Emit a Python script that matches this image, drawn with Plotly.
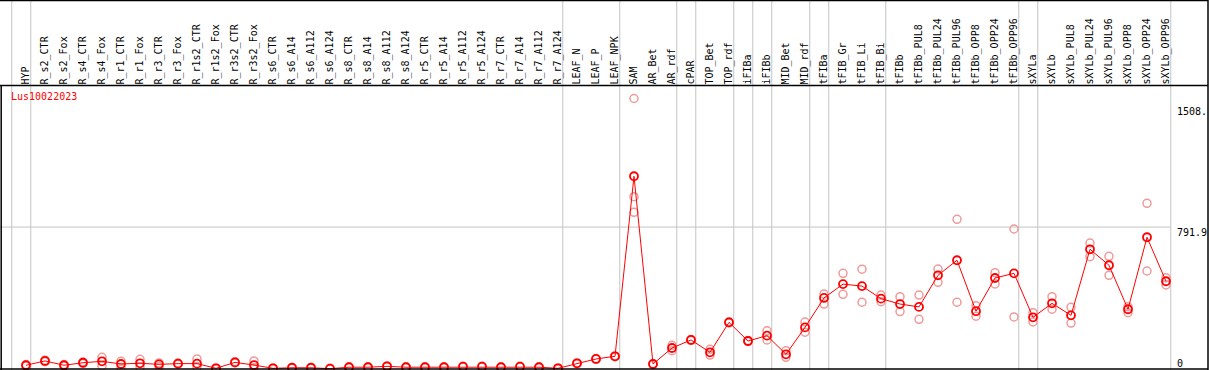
import plotly.graph_objects as go

categories = ["HYP", "R_s2_CTR", "R_s2_Fox", "R_s4_CTR", "R_s4_Fox", "R_r1_CTR", "R_r1_Fox",
              "R_r3_CTR", "R_r3_Fox", "R_r1s2_CTR", "R_r1s2_Fox", "R_r3s2_CTR", "R_r3s2_Fox",
              "R_s6_CTR", "R_s6_A14", "R_s6_A112", "R_s6_A124", "R_s8_CTR", "R_s8_A14",
              "R_s8_A112", "R_s8_A124", "R_r5_CTR", "R_r5_A14", "R_r5_A112", "R_r5_A124",
              "R_r7_CTR", "R_r7_A14", "R_r7_A112", "R_r7_A124", "LEAF_N", "LEAF_P", "LEAF_NPK",
              "SAM", "AR_Bet", "AR_rdf", "cPAR", "TOP_Bet", "TOP_rdf", "iFIBa", "iFIBb",
              "MID_Bet", "MID_rdf", "tFIBa", "tFIB_Gr", "tFIB_Li", "tFIB_Bi", "tFIBb",
              "tFIBb_PUL8", "tFIBb_PUL24", "tFIBb_PUL96", "tFIBb_OPP8", "tFIBb_OPP24",
              "tFIBb_OPP96", "sXYLa", "sXYLb", "sXYLb_PUL8", "sXYLb_PUL24", "sXYLb_PUL96",
              "sXYLb_OPP8", "sXYLb_OPP24", "sXYLb_OPP96"]

mean_values = [22, 46, 22, 36, 44, 29, 33, 27, 31, 31, 5, 38, 23, 5, 8, 8, 3, 11, 11, 16, 11,
               11, 11, 14, 14, 11, 14, 11, 5, 33, 57, 72, 1075, 29, 118, 163, 94, 261, 157, 187,
               83, 233, 397, 474, 463, 393, 363, 347, 523, 607, 323, 508, 534, 289, 367, 300,
               668, 579, 334, 735, 490]

rep_a = [26, 50, 26, 40, 66, 44, 55, 35, 34, 57, 7, 41, 46, 7, 10, 10, 5, 13, 13, 18, 13,
         13, 13, 16, 16, 13, 16, 13, 7, 35, 59, 74, 1508, 31, 133, 166, 111, 264, 160, 214,
         103, 263, 419, 534, 557, 413, 404, 413, 558, 835, 354, 538, 781, 315, 404, 345,
         703, 629, 348, 924, 510]

rep_b = [18, 42, 18, 32, 18, 9, 11, 14, 28, 11, 3, 35, 8, 3, 6, 6, 1, 9, 9, 14, 9,
         9, 9, 12, 12, 9, 12, 9, 3, 31, 55, 70, 961, 27, 103, 160, 79, 258, 154, 163,
         66, 206, 363, 417, 373, 376, 321, 278, 484, 373, 295, 475, 291, 263, 334, 257,
         627, 523, 315, 547, 469]

rep_c = [None] * 32 + [874] + [None] * 28

group_edges = [-0.75, 0.25, 28.25, 31.25, 34.25, 35.25, 37.25, 38.25, 39.25, 41.25,
               42.25, 45.25, 52.25, 53.25, 60.25]

axis_labels = ["1508.", "791.9", "0"]
axis_values = [1508, 791.9, 0]
gene_name = "Lus10022023"

W, H = 1209, 370
x0_px, step_px = 26, 19
zero_px, k = 369.2, 0.1795
header_px = 85.5

idx = list(range(len(categories)))
mono = "DejaVu Sans Mono"

fig = go.Figure()
for reps in (rep_a, rep_b, rep_c):
    fig.add_trace(go.Scatter(
        x=idx, y=reps, mode="markers",
        marker=dict(symbol="circle-open", size=8, color="#f09a9a", line=dict(width=1.5)),
        hoverinfo="skip", showlegend=False))
fig.add_trace(go.Scatter(
    x=idx, y=mean_values, mode="lines+markers",
    line=dict(color="#ff0000", width=1),
    marker=dict(symbol="circle-open", size=8, color="#ff0000", line=dict(width=1.8)),
    showlegend=False))

shapes = []
for e in group_edges:
    shapes.append(dict(type="line", xref="x", yref="paper", x0=e, x1=e, y0=0, y1=1,
                       line=dict(color="#c4c4c4", width=1), layer="below"))
shapes.append(dict(type="line", xref="paper", yref="y", x0=0,
                   x1=(x0_px + step_px * group_edges[-1]) / W,
                   y0=axis_values[1], y1=axis_values[1],
                   line=dict(color="#c4c4c4", width=1), layer="below"))
# frame
shapes += [
    dict(type="line", xref="paper", yref="paper", x0=0, x1=1208 / W, y0=1 - header_px / H,
         y1=1 - header_px / H, line=dict(color="black", width=1.5)),
    dict(type="line", xref="paper", yref="paper", x0=0, x1=1208 / W, y0=1 - 0.5 / H,
         y1=1 - 0.5 / H, line=dict(color="black", width=1.5)),
    dict(type="line", xref="paper", yref="paper", x0=0, x1=1208 / W, y0=1 - 369 / H,
         y1=1 - 369 / H, line=dict(color="black", width=1.5)),
    dict(type="line", xref="paper", yref="paper", x0=1208 / W, x1=1208 / W, y0=0, y1=1,
         line=dict(color="black", width=1.5)),
    dict(type="line", xref="paper", yref="paper", x0=1.2 / W, x1=1.2 / W, y0=0,
         y1=1 - header_px / H, line=dict(color="black", width=1.5)),
]

annotations = [dict(text=gene_name, xref="paper", yref="paper", x=9 / W, y=1 - 96.7 / H,
                    xanchor="left", yanchor="middle", showarrow=False,
                    font=dict(family=mono, size=10, color="#ff0000"))]
shifts = [-13, -5, 6]
for lab, val, sh in zip(axis_labels, axis_values, shifts):
    annotations.append(dict(text=lab, xref="paper", yref="y", x=1175 / W, y=val,
                            xanchor="left", yanchor="middle", yshift=sh, showarrow=False,
                            font=dict(family=mono, size=10, color="black")))

ymin = -(H - zero_px) / k
ymax = (zero_px - header_px) / k

fig.update_layout(
    width=W, height=H, margin=dict(l=0, r=0, t=0, b=0),
    paper_bgcolor="white", plot_bgcolor="white",
    shapes=shapes, annotations=annotations,
    xaxis=dict(range=[-x0_px / step_px, (W - x0_px) / step_px], side="top",
               tickmode="array", tickvals=idx, ticktext=categories, tickangle=-90,
               ticks="", ticklen=0, showgrid=False, zeroline=False, showline=False,
               tickfont=dict(family=mono, size=10, color="black")),
    yaxis=dict(range=[ymin, ymax], domain=[0, 1 - header_px / H], showgrid=False,
               zeroline=False, showticklabels=False, showline=False),
)

fig.write_html("out.html", config={"displayModeBar": False},
               post_script="document.body.style.margin='0';document.body.style.padding='0';")
